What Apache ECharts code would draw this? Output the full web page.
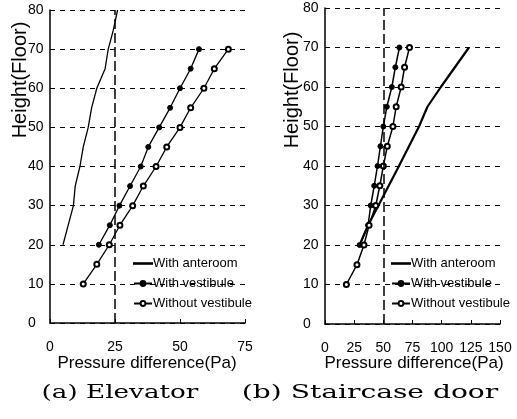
<!DOCTYPE html>
<html>
<head>
<meta charset="utf-8">
<script src="https://cdn.jsdelivr.net/npm/echarts@6/dist/echarts.min.js"></script>
<style>
  html, body { margin: 0; padding: 0; background: #fff; }
  #chart { width: 517px; height: 419px; }
</style>
</head>
<body>
<div id="chart"></div>
<script>
// (a) Elevator
var elevAnteroomFloor = [20, 25, 30, 35, 40, 45, 50, 55, 60, 65, 70, 75, 80];
var elevAnteroom = [5, 7, 9, 9.7, 11.5, 12.8, 14.7, 16, 18, 21.2, 22.4, 24.4, 26];
var elevVestFloor = [20, 25, 30, 35, 40, 45, 50, 55, 60, 65, 70];
var elevVest = [18.8, 23, 26.7, 30.8, 34.9, 37.8, 42, 46.2, 50, 54.1, 57.3];
var elevNoVestFloor = [10, 15, 20, 25, 30, 35, 40, 45, 50, 55, 60, 65, 70];
var elevNoVest = [12.8, 18, 22.8, 26.9, 31.8, 35.9, 40.8, 44.9, 50, 54.1, 59.2, 63.2, 68.6];

// (b) Staircase door
var stairAnteroomFloor = [20, 25, 30, 40, 50, 55, 60, 70];
var stairAnteroom = [29.7, 36.9, 45.8, 63.4, 80.6, 87.8, 99.3, 123.4];
var stairVestFloor = [20, 25, 30, 35, 40, 45, 50, 55, 60, 65, 70];
var stairVest = [29.7, 36.9, 39.2, 42.2, 45, 47.5, 50, 53, 57.3, 60.3, 63.8];
var stairNoVestFloor = [10, 15, 20, 25, 30, 35, 40, 45, 50, 55, 60, 65, 70];
var stairNoVest = [18.3, 27.4, 33.4, 37.8, 43.5, 47, 50, 53.4, 58.2, 61, 65.3, 68.2, 72.4];

var seriesNames = ['With anteroom', 'With vestibule', 'Without vestibule'];
var limitLines = [25, 50];

var sans = "'Liberation Sans', Arial, sans-serif";

function pairs(xs, floors) {
    return xs.map(function (x, i) { return [x, floors[i]]; });
}

function xAxis(idx, max) {
    return {
        type: 'value', gridIndex: idx, min: 0, max: max, interval: 25,
        axisLine: { lineStyle: { color: '#000', width: 1.5 } },
        axisTick: { show: true, inside: true, length: 4, lineStyle: { color: '#000' } },
        axisLabel: { color: '#000', fontFamily: sans, fontSize: 14, margin: 17 },
        splitLine: { show: false }
    };
}

function yAxis(idx) {
    return {
        type: 'value', gridIndex: idx, min: 0, max: 80, interval: 10,
        axisLine: { show: true, lineStyle: { color: '#000', width: 1.5 } },
        axisTick: { show: false },
        axisLabel: { color: '#000', fontFamily: sans, fontSize: 14, align: 'left', margin: 22 },
        splitLine: { show: true, lineStyle: { color: '#000', type: [5, 5], width: 1 } }
    };
}

function line(name, idx, data, symbol, width) {
    return {
        name: name, type: 'line', xAxisIndex: idx, yAxisIndex: idx,
        data: data, symbol: symbol, symbolSize: 5, showSymbol: symbol !== 'none',
        lineStyle: { color: '#000', width: width },
        itemStyle: { color: '#000', borderColor: '#000', borderWidth: 1 },
        animation: false
    };
}

function limit(x) {
    return {
        symbol: 'none', silent: true, label: { show: false },
        lineStyle: { color: '#000', type: [10, 4], width: 1.5 },
        data: [{ xAxis: x }]
    };
}

var s = [
    line(seriesNames[0], 0, pairs(elevAnteroom, elevAnteroomFloor), 'none', 1.3),
    line(seriesNames[1], 0, pairs(elevVest, elevVestFloor), 'circle', 1.3),
    line(seriesNames[2], 0, pairs(elevNoVest, elevNoVestFloor), 'emptyCircle', 1.3),
    line(seriesNames[0], 1, pairs(stairAnteroom, stairAnteroomFloor), 'none', 2.2),
    line(seriesNames[1], 1, pairs(stairVest, stairVestFloor), 'circle', 1.5),
    line(seriesNames[2], 1, pairs(stairNoVest, stairNoVestFloor), 'emptyCircle', 1.5)
];
s[0].markLine = limit(limitLines[0]);
s[3].markLine = limit(limitLines[1]);

function legend(left) {
    return {
        data: [
            { name: seriesNames[0], icon: 'path://M0,0L36,0L36,1.2L0,1.2Z' },
            { name: seriesNames[1] },
            { name: seriesNames[2] }
        ],
        orient: 'vertical', left: left, top: 257,
        itemWidth: 18, itemHeight: 6, itemGap: 7, padding: 0, selectedMode: false,
        textStyle: { color: '#000', fontFamily: sans, fontSize: 13, padding: [0, 0, 0, -4] }
    };
}

function label(text, x, y, size, rot, font) {
    return {
        type: 'text', x: x, y: y, rotation: rot || 0,
        style: {
            text: text, fill: '#000', font: size + 'px ' + (font || sans),
            textAlign: 'center', textVerticalAlign: 'middle'
        }
    };
}

var captionFont = "'DejaVu Serif', 'Liberation Serif', serif";
var cap1 = label('(a) Elevator', 120, 393, 19, 0, captionFont);
var cap2 = label('(b) Staircase door', 370, 393, 19, 0, captionFont);
cap1.scaleX = 1.38;
cap2.scaleX = 1.48;

var chart = echarts.init(document.getElementById('chart'));
chart.setOption({
    backgroundColor: '#fff',
    animation: false,
    grid: [
        { left: 50, top: 10, width: 195, height: 313 },
        { left: 325, top: 8, width: 175, height: 316 }
    ],
    xAxis: [xAxis(0, 75), xAxis(1, 150)],
    yAxis: [yAxis(0), yAxis(1)],
    legend: [legend(133), legend(391)],
    series: s,
    graphic: [
        label('Height(Floor)', 20, 80, 20, Math.PI / 2),
        label('Height(Floor)', 292, 90, 20, Math.PI / 2),
        label('Pressure difference(Pa)', 147, 363, 17),
        label('Pressure difference(Pa)', 414, 363, 17),
        cap1, cap2
    ]
});
</script>
</body>
</html>
